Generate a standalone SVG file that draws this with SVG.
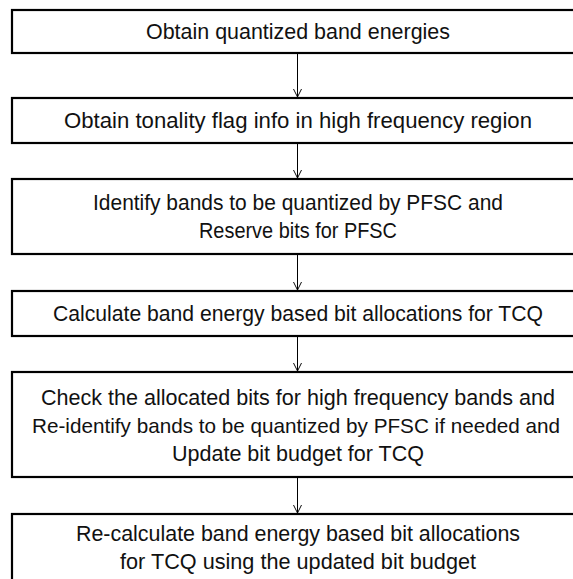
<svg xmlns="http://www.w3.org/2000/svg" width="573" height="579" viewBox="0 0 573 579">
<style>
.box{fill:#fff;stroke:#000;stroke-width:2.2}
.t{font-family:"Liberation Sans",Arial,sans-serif;font-size:22px;fill:#111;text-anchor:middle}
.c{stroke:#000;stroke-width:1;fill:none}
</style>
<defs>
<marker id="arr" viewBox="0 0 10 10" refX="10" refY="5" markerWidth="8" markerHeight="10" orient="auto" markerUnits="userSpaceOnUse">
<path d="M0,0 L10,5 L0,10" fill="none" stroke="#000" stroke-width="1.2"/>
</marker>
</defs>
<rect width="573" height="579" fill="#fff"/>
<g id="n1">
<rect class="box" x="12" y="10" width="580" height="43"/>
<text class="t" x="298" y="39" textLength="304" lengthAdjust="spacingAndGlyphs">Obtain quantized band energies</text>
</g>
<g id="n2">
<rect class="box" x="12" y="98" width="580" height="45"/>
<text class="t" x="298" y="128" textLength="468" lengthAdjust="spacingAndGlyphs">Obtain tonality flag info in high frequency region</text>
</g>
<g id="n3">
<rect class="box" x="12" y="179" width="580" height="75"/>
<text class="t" x="298" y="210" textLength="410" lengthAdjust="spacingAndGlyphs">Identify bands to be quantized by PFSC and</text>
<text class="t" x="298" y="238" textLength="198" lengthAdjust="spacingAndGlyphs">Reserve bits for PFSC</text>
</g>
<g id="n4">
<rect class="box" x="12" y="291" width="580" height="45"/>
<text class="t" x="298" y="321" textLength="490" lengthAdjust="spacingAndGlyphs">Calculate band energy based bit allocations for TCQ</text>
</g>
<g id="n5">
<rect class="box" x="12" y="372" width="580" height="105"/>
<text class="t" x="298" y="404.5" textLength="514" lengthAdjust="spacingAndGlyphs">Check the allocated bits for high frequency bands and</text>
<text class="t" x="296" y="432.5" style="font-size:21px" textLength="528" lengthAdjust="spacingAndGlyphs">Re-identify bands to be quantized by PFSC if needed and</text>
<text class="t" x="298" y="460.5" textLength="252" lengthAdjust="spacingAndGlyphs">Update bit budget for TCQ</text>
</g>
<g id="n6">
<rect class="box" x="12" y="514" width="580" height="80"/>
<text class="t" x="298" y="540.5" textLength="444" lengthAdjust="spacingAndGlyphs">Re-calculate band energy based bit allocations</text>
<text class="t" x="298" y="568.5" textLength="356" lengthAdjust="spacingAndGlyphs">for TCQ using the updated bit budget</text>
</g>
<g id="connectors">
<line class="c" x1="297.5" y1="54" x2="297.5" y2="97" marker-end="url(#arr)"/>
<line class="c" x1="297.5" y1="144" x2="297.5" y2="178" marker-end="url(#arr)"/>
<line class="c" x1="297.5" y1="255" x2="297.5" y2="290" marker-end="url(#arr)"/>
<line class="c" x1="297.5" y1="337" x2="297.5" y2="371" marker-end="url(#arr)"/>
<line class="c" x1="297.5" y1="478" x2="297.5" y2="513" marker-end="url(#arr)"/>
</g>
</svg>
